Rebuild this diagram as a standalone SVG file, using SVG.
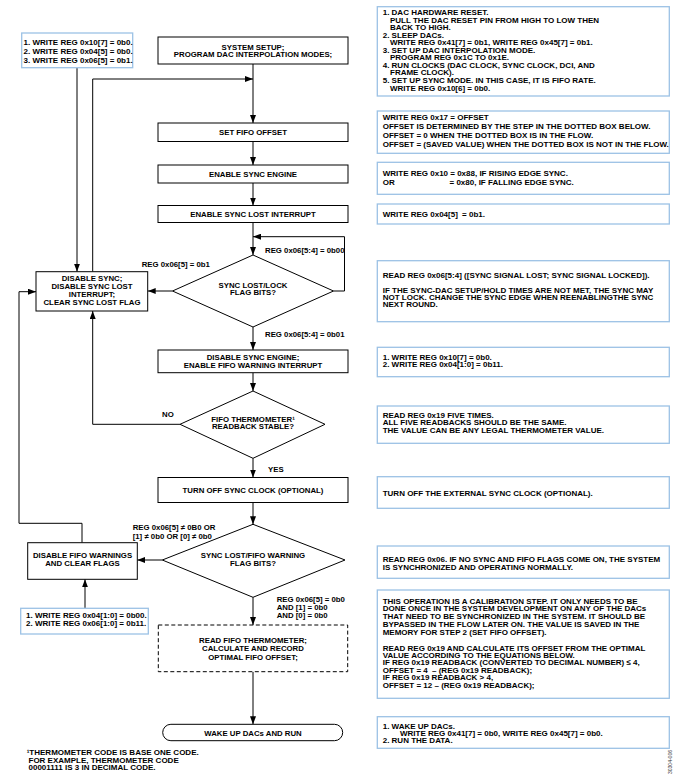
<svg xmlns="http://www.w3.org/2000/svg" width="687" height="781" viewBox="0 0 687 781">
<defs>
<marker id="ah" markerUnits="userSpaceOnUse" markerWidth="8" markerHeight="6" refX="8" refY="3" orient="auto">
<path d="M0,0 L8,3 L0,6 z" fill="#000"/>
</marker>
<style>
.t{font-family:"Liberation Sans",Arial,sans-serif;font-weight:bold;font-size:7.8px;fill:#000}
.n{font-family:"Liberation Sans",Arial,sans-serif;font-weight:bold;font-size:8px;fill:#000}
.c{text-anchor:middle}
.box{fill:#fff;stroke:#000;stroke-width:1}
.dash{fill:#fff;stroke:#000;stroke-width:1;stroke-dasharray:4,2.5}
.note{fill:#fff;stroke:#9cc2e5;stroke-width:1.3}
.ln{fill:none;stroke:#000;stroke-width:1}
.ar{fill:none;stroke:#000;stroke-width:1;marker-end:url(#ah)}
</style>
</defs>
<rect width="687" height="781" fill="#fff"/>

<g id="connectors">
<path class="ar" d="M253,64 V123"/>
<path class="ar" d="M92.7,271.7 V79 H253"/>
<path class="ar" d="M253,141.5 V165"/>
<path class="ar" d="M253,183 V205.5"/>
<path class="ar" d="M253,222.5 V255"/>
<path class="ar" d="M333.5,291 H344.5 V236.7 H253"/>
<path class="ar" d="M77,67.7 V271.7"/>
<path class="ar" d="M172.5,291 H147.7"/>
<path class="ar" d="M253,327 V350"/>
<path class="ar" d="M253,372.7 V391"/>
<path class="ar" d="M180,424.3 H92.7 V311"/>
<path class="ar" d="M253,458.3 V477.5"/>
<path class="ar" d="M253,502.5 V524.3"/>
<path class="ar" d="M162.3,560 H137.3"/>
<path class="ar" d="M82,542.7 V523.3 H19 V291.7 H36"/>
<path class="ar" d="M85,608.3 V579.3"/>
<path class="ar" d="M253,597.3 V625"/>
<path class="ar" d="M253,671.7 V724.3"/>
<text class="t" x="265" y="252.8">REG 0x06[5:4] = 0b00</text>
<text class="t" x="141.7" y="267">REG 0x06[5] = 0b1</text>
<text class="t" x="265" y="336.8">REG 0x06[5:4] = 0b01</text>
<text class="t" x="162" y="416.8">NO</text>
<text class="t" x="268" y="472">YES</text>
<text class="t" x="132.7" y="530">REG 0x06[5] ≠ 0B0 OR</text>
<text class="t" x="132.7" y="538.5">[1] ≠ 0b0 OR [0] ≠ 0b0</text>
<text class="t" x="276.7" y="601.8">REG 0x06[5] = 0b0</text>
<text class="t" x="276.7" y="610">AND [1] = 0b0</text>
<text class="t" x="276.7" y="617.8">AND [0] = 0b0</text>
</g>

<g id="note-left-top">
<rect class="note" x="21.7" y="33" width="111" height="34.7"/>
<text class="n" x="23.5" y="44.8">1. WRITE REG 0x10[7] = 0b0.</text>
<text class="n" x="23.5" y="53.8">2. WRITE REG 0x04[5] = 0b0.</text>
<text class="n" x="23.5" y="62.8">3. WRITE REG 0x06[5] = 0b1.</text>
</g>

<g id="system-setup">
<rect class="box" x="158" y="37" width="190" height="27"/>
<text class="t c" x="253" y="49.5">SYSTEM SETUP;</text>
<text class="t c" x="253" y="57.2">PROGRAM DAC INTERPOLATION MODES;</text>
</g>

<g id="set-fifo-offset">
<rect class="box" x="158" y="123" width="190" height="18.5"/>
<text class="t c" x="253" y="135.3">SET FIFO OFFSET</text>
</g>

<g id="enable-sync-engine">
<rect class="box" x="158" y="165" width="190" height="18"/>
<text class="t c" x="253" y="176.8">ENABLE SYNC ENGINE</text>
</g>

<g id="enable-sync-lost-interrupt">
<rect class="box" x="158" y="205.5" width="190" height="17"/>
<text class="t c" x="253" y="216.8">ENABLE SYNC LOST INTERRUPT</text>
</g>

<g id="sync-lost-lock-decision">
<polygon class="box" points="253,255 333.5,291 253,327 172.5,291"/>
<text class="t c" x="253" y="287.8">SYNC LOST/LOCK</text>
<text class="t c" x="253" y="295.3">FLAG BITS?</text>
</g>

<g id="disable-sync">
<rect class="box" x="36" y="271.7" width="111.7" height="39.3"/>
<text class="t c" x="92" y="281">DISABLE SYNC;</text>
<text class="t c" x="92" y="288.8">DISABLE SYNC LOST</text>
<text class="t c" x="92" y="297">INTERRUPT;</text>
<text class="t c" x="92" y="305">CLEAR SYNC LOST FLAG</text>
</g>

<g id="disable-sync-engine">
<rect class="box" x="158" y="350" width="190" height="22.7"/>
<text class="t c" x="253" y="360">DISABLE SYNC ENGINE;</text>
<text class="t c" x="253" y="367.8">ENABLE FIFO WARNING INTERRUPT</text>
</g>

<g id="fifo-thermometer-decision">
<polygon class="box" points="253,391 325,424.3 253,458.3 180,424.3"/>
<text class="t c" x="253" y="422">FIFO THERMOMETER¹</text>
<text class="t c" x="253" y="428.8">READBACK STABLE?</text>
</g>

<g id="turn-off-sync-clock">
<rect class="box" x="158" y="477.5" width="190" height="25"/>
<text class="t c" x="253" y="492.8">TURN OFF SYNC CLOCK (OPTIONAL)</text>
</g>

<g id="sync-lost-fifo-decision">
<polygon class="box" points="253,524.3 345,560 253,597.3 162.3,560"/>
<text class="t c" x="253" y="557.8">SYNC LOST/FIFO WARNING</text>
<text class="t c" x="253" y="565.5">FLAG BITS?</text>
</g>

<g id="disable-fifo-warnings">
<rect class="box" x="27.7" y="542.7" width="109.6" height="36.6"/>
<text class="t c" x="82.5" y="557.8">DISABLE FIFO WARNINGS</text>
<text class="t c" x="82.5" y="566">AND CLEAR FLAGS</text>
</g>

<g id="note-left-bottom">
<rect class="note" x="20.7" y="608.3" width="127.6" height="25.7"/>
<text class="n" x="26" y="617.8">1. WRITE REG 0x04[1:0] = 0b00.</text>
<text class="n" x="26" y="626">2. WRITE REG 0x06[1:0] = 0b11.</text>
</g>

<g id="read-fifo-thermometer">
<rect class="dash" x="158.3" y="625" width="189.4" height="46.7"/>
<text class="t c" x="253" y="642.8">READ FIFO THERMOMETER;</text>
<text class="t c" x="253" y="651">CALCULATE AND RECORD</text>
<text class="t c" x="253" y="659.5">OPTIMAL FIFO OFFSET;</text>
</g>

<g id="wake-up-dacs">
<rect class="box" x="162.7" y="724.3" width="180" height="16.4" rx="8.2" ry="8.2"/>
<text class="t c" x="253" y="735.5">WAKE UP DACs AND RUN</text>
</g>

<g id="footnote">
<text class="n" x="26.7" y="755">¹THERMOMETER CODE IS BASE ONE CODE.</text>
<text class="n" x="28.5" y="762.8">FOR EXAMPLE, THERMOMETER CODE</text>
<text class="n" x="28.5" y="769.5">00001111 IS 3 IN DECIMAL CODE.</text>
</g>

<g id="note-r1">
<rect class="note" x="377.3" y="6.7" width="292" height="89.3"/>
<text class="n" x="382.7" y="15.1">1. DAC HARDWARE RESET.</text>
<text class="n" x="390" y="22.6">PULL THE DAC RESET PIN FROM HIGH TO LOW THEN</text>
<text class="n" x="390" y="30.2">BACK TO HIGH.</text>
<text class="n" x="382.7" y="37.7">2. SLEEP DACs.</text>
<text class="n" x="390" y="45.3">WRITE REG 0x41[7] = 0b1, WRITE REG 0x45[7] = 0b1.</text>
<text class="n" x="382.7" y="52.8">3. SET UP DAC INTERPOLATION MODE.</text>
<text class="n" x="390" y="60.3">PROGRAM REG 0x1C TO 0x1E.</text>
<text class="n" x="382.7" y="67.9">4. RUN CLOCKS (DAC CLOCK, SYNC CLOCK, DCI, AND</text>
<text class="n" x="390" y="75.4">FRAME CLOCK).</text>
<text class="n" x="382.7" y="83">5. SET UP SYNC MODE. IN THIS CASE, IT IS FIFO RATE.</text>
<text class="n" x="390" y="90.5">WRITE REG 0x10[6] = 0b0.</text>
</g>

<g id="note-r2">
<rect class="note" x="377.3" y="111" width="292" height="42.3"/>
<text class="n" x="382.7" y="120">WRITE REG 0x17 = OFFSET</text>
<text class="n" x="382.7" y="129.3">OFFSET IS DETERMINED BY THE STEP IN THE DOTTED BOX BELOW.</text>
<text class="n" x="382.7" y="138.4">OFFSET = 0 WHEN THE DOTTED BOX IS IN THE FLOW.</text>
<text class="n" x="382.7" y="147">OFFSET = (SAVED VALUE) WHEN THE DOTTED BOX IS NOT IN THE FLOW.</text>
</g>

<g id="note-r3">
<rect class="note" x="377.3" y="162.3" width="292" height="32"/>
<text class="n" x="382.7" y="176">WRITE REG 0x10 = 0x88, IF RISING EDGE SYNC.</text>
<text class="n" x="382.7" y="184.5">OR</text>
<text class="n" x="449.5" y="184.5">= 0x80, IF FALLING EDGE SYNC.</text>
</g>

<g id="note-r4">
<rect class="note" x="377.3" y="204" width="292" height="20"/>
<text class="n" x="382.7" y="217">WRITE REG 0x04[5] <tspan dx="2">= 0b1.</tspan></text>
</g>

<g id="note-r5">
<rect class="note" x="377.3" y="260.7" width="292" height="61"/>
<text class="n" x="382.7" y="277.8">READ REG 0x06[5:4] ([SYNC SIGNAL LOST; SYNC SIGNAL LOCKED]).</text>
<text class="n" x="382.7" y="292.8">IF THE SYNC-DAC SETUP/HOLD TIMES ARE NOT MET, THE SYNC MAY</text>
<text class="n" x="382.7" y="299.8">NOT LOCK. CHANGE THE SYNC EDGE WHEN REENABLINGTHE SYNC</text>
<text class="n" x="382.7" y="306.8">NEXT ROUND.</text>
</g>

<g id="note-r6">
<rect class="note" x="377.3" y="347.3" width="292" height="29.4"/>
<text class="n" x="382.7" y="359.5">1. WRITE REG 0x10[7] = 0b0.</text>
<text class="n" x="382.7" y="366.8">2. WRITE REG 0x04[1:0] = 0b11.</text>
</g>

<g id="note-r7">
<rect class="note" x="377.3" y="406" width="292" height="37.3"/>
<text class="n" x="382.7" y="417.8">READ REG 0x19 FIVE TIMES.</text>
<text class="n" x="382.7" y="425.1">ALL FIVE READBACKS SHOULD BE THE SAME.</text>
<text class="n" x="382.7" y="432.8">THE VALUE CAN BE ANY LEGAL THERMOMETER VALUE.</text>
</g>

<g id="note-r8">
<rect class="note" x="377.3" y="476.7" width="292" height="31.6"/>
<text class="n" x="382.7" y="496">TURN OFF THE EXTERNAL SYNC CLOCK (OPTIONAL).</text>
</g>

<g id="note-r9">
<rect class="note" x="377.3" y="546" width="292" height="32.3"/>
<text class="n" x="382.7" y="562">READ REG 0x06. IF NO SYNC AND FIFO FLAGS COME ON, THE SYSTEM</text>
<text class="n" x="382.7" y="569.5">IS SYNCHRONIZED AND OPERATING NORMALLY.</text>
</g>

<g id="note-r10">
<rect class="note" x="377.3" y="590" width="292" height="108.3"/>
<text class="n" x="382.7" y="603.8">THIS OPERATION IS A CALIBRATION STEP. IT ONLY NEEDS TO BE</text>
<text class="n" x="382.7" y="611.3">DONE ONCE IN THE SYSTEM DEVELOPMENT ON ANY OF THE DACs</text>
<text class="n" x="382.7" y="618.8">THAT NEED TO BE SYNCHRONIZED IN THE SYSTEM. IT SHOULD BE</text>
<text class="n" x="382.7" y="626.5">BYPASSED IN THE FLOW LATER ON. THE VALUE IS SAVED IN THE</text>
<text class="n" x="382.7" y="635">MEMORY FOR STEP 2 (SET FIFO OFFSET).</text>
<text class="n" x="382.7" y="651">READ REG 0x19 AND CALCULATE ITS OFFSET FROM THE OPTIMAL</text>
<text class="n" x="382.7" y="658">VALUE ACCORDING TO THE EQUATIONS BELOW.</text>
<text class="n" x="382.7" y="665.3">IF REG 0x19 READBACK (CONVERTED TO DECIMAL NUMBER) ≤ 4,</text>
<text class="n" x="382.7" y="672.8">OFFSET = 4 <tspan dx="2">– (REG 0x19 READBACK);</tspan></text>
<text class="n" x="382.7" y="680.4">IF REG 0x19 READBACK &gt; 4,</text>
<text class="n" x="382.7" y="687.8">OFFSET = 12 – (REG 0x19 READBACK);</text>
</g>

<g id="note-r11">
<rect class="note" x="377.3" y="716.7" width="292" height="31.6"/>
<text class="n" x="382.7" y="728.8">1. WAKE UP DACs.</text>
<text class="n" x="400" y="736.1">WRITE REG 0x41[7] = 0b0, WRITE REG 0x45[7] = 0b0.</text>
<text class="n" x="382.7" y="743">2. RUN THE DATA.</text>
</g>

<text x="672" y="762" transform="rotate(-90 672 762)" text-anchor="middle" style="font-family:'Liberation Sans',Arial,sans-serif;font-size:5px;fill:#333">30304-006</text>
</svg>
